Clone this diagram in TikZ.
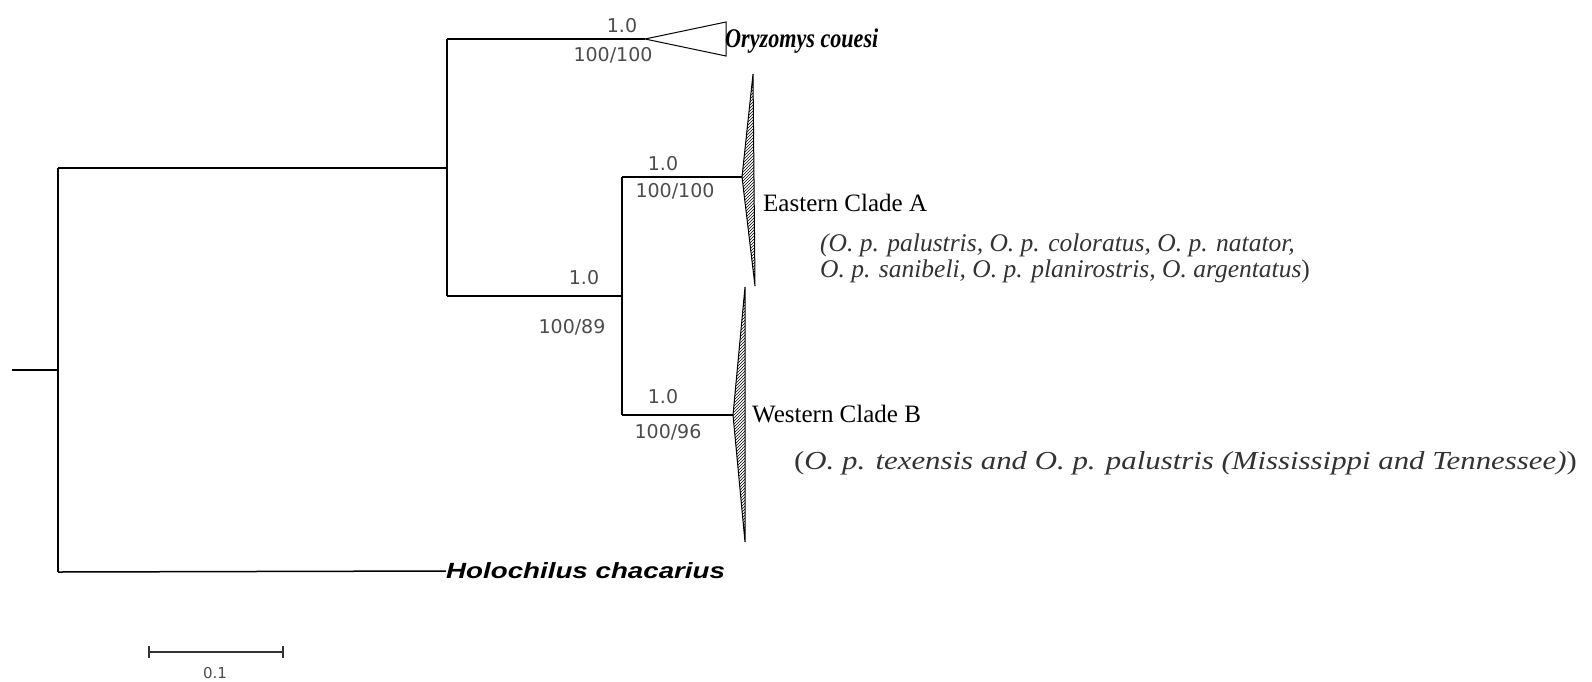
\documentclass[tikz,border=0pt]{standalone}
\usepackage{fontspec}
\setmainfont{Liberation Serif}
\setsansfont{Liberation Sans}
\newfontfamily\numfont{DejaVu Sans}
\usetikzlibrary{patterns}
\begin{document}
\begin{tikzpicture}[x=1pt,y=-1pt,
  branch/.style={line width=1.5pt,black},
  support/.style={font=\numfont\fontsize{19}{19}\selectfont,text=black!70,inner sep=0pt},
  taxon/.style={font=\sffamily\bfseries\itshape\fontsize{22}{22}\selectfont,inner sep=0pt},
  cladename/.style={font=\fontsize{25}{25}\selectfont,inner sep=0pt,anchor=west},
  members/.style={font=\itshape\fontsize{25.5}{26}\selectfont,text=black!80,inner sep=0pt,anchor=west,align=left},
  collapsed/.style={line width=1pt,black},
  hatched/.style={line width=1pt,black,pattern=north east lines,pattern color=black}]
\useasboundingbox (0,0) rectangle (1592,681);
% tree coordinates
\coordinate (root0) at (12,370);
\coordinate (root) at (58,370);
\coordinate (rtop) at (58,168);
\coordinate (rbot) at (58,572);
\coordinate (n1) at (447,168);
\coordinate (n1t) at (447,39);
\coordinate (n1b) at (447,296);
\coordinate (oc) at (645,39);
\coordinate (n2) at (622,296);
\coordinate (n2t) at (622,177);
\coordinate (n2b) at (622,415);
\coordinate (ea) at (742,177);
\coordinate (wb) at (733,415);
% terminal labels
\node[taxon,anchor=west] (hol) at (446,571) {\scalebox{1.26}[1]{Holochilus chacarius}};
\node[font=\rmfamily\bfseries\itshape\fontsize{27}{27}\selectfont,inner sep=0pt,anchor=west] (ory) at (725,41) {\scalebox{0.82}[1]{Oryzomys couesi}};
\node[cladename] (east) at (763,203) {Eastern Clade A};
\node[members] (eastm) at (820,258) {(O. p. palustris, O. p. coloratus, O. p. natator,\\O. p. sanibeli, O. p. planirostris, O. argentatus\/\upshape)};
\node[cladename] (west) at (752,414) {Western Clade B};
\node[members,font=\itshape\fontsize{26}{26}\selectfont] (westm) at (794,463) {\scalebox{1.186}[1]{\upshape(\itshape O. p. texensis and O. p. palustris (Mississippi and Tennessee)\/\upshape)}};
% branches
\draw[branch] (root0) -- (root);
\draw[branch] (rtop) -- (rbot);
\draw[branch] (rtop) -- (n1);
\draw[branch] (n1t) -- (n1b);
\draw[branch] (n1t) -- (oc);
\draw[branch] (n1b) -- (n2);
\draw[branch] (n2t) -- (n2b);
\draw[branch] (n2t) -- (ea);
\draw[branch] (n2b) -- (wb);
\draw[branch] (rbot) -- (hol.west);
% collapsed clades
\draw[collapsed] (oc) -- (726,22) -- (726,56) -- cycle;
\draw[hatched] (ea) -- (753,74) -- (755,286) -- cycle;
\draw[hatched] (wb) -- (745,287) -- (745,542) -- cycle;
% support values
\node[support] (s1a) at (622,26) {1.0};
\node[support] (s1b) at (613,55) {100/100};
\node[support] (s2a) at (584,278) {1.0};
\node[support] (s2b) at (572,327) {100/89};
\node[support] (s3a) at (663,164) {1.0};
\node[support] (s3b) at (675,191) {100/100};
\node[support] (s4a) at (663,397) {1.0};
\node[support] (s4b) at (668,432) {100/96};
% scale bar
\coordinate (sb1) at (149,652);
\coordinate (sb2) at (283,652);
\draw[line width=1.3pt,black!80] (sb1) -- (sb2);
\draw[line width=1.3pt,black!80] ([yshift=-6pt]sb1) -- ([yshift=6pt]sb1);
\draw[line width=1.3pt,black!80] ([yshift=-6pt]sb2) -- ([yshift=6pt]sb2);
\node[font=\numfont\fontsize{15}{15}\selectfont,text=black!70,inner sep=0pt] (sbl) at (215,673) {0.1};
\end{tikzpicture}
\end{document}
